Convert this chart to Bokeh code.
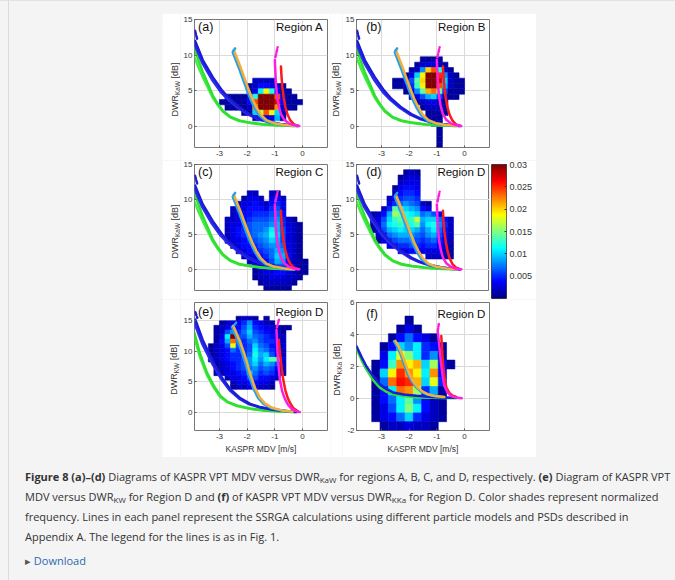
import numpy as np
from bokeh.plotting import figure
from bokeh.models import (Range1d, FixedTicker, Label, LinearColorMapper, ColumnDataSource,
                          Spacer, Div, CustomJSTickFormatter)
from bokeh.layouts import row, column
from bokeh.transform import linear_cmap
from bokeh.embed import file_html
from bokeh.resources import INLINE

FONT = "Liberation Sans"
TXT = "#333333"

# ---------------------------------------------------------------- data
X_TICKS = [-3, -2, -1, 0]
Y_TICKS_KAW = [0, 5, 10, 15]
Y_TICKS_KW = [0, 5, 10, 15]
Y_TICKS_KKA = [-2, 0, 2, 4, 6]
CBAR_TICKS = [0.005, 0.01, 0.015, 0.02, 0.025, 0.03]
LETTERS = ["(a)", "(b)", "(c)", "(d)", "(e)", "(f)"]
REGIONS = ["Region A", "Region B", "Region C", "Region D", "Region D", "Region D"]
Y_SUBS = ["KaW", "KaW", "KaW", "KaW", "KW", "KKa"]
X_LABEL = "KASPR MDV [m/s]"

# normalized frequency, in units of 0.001 (0 = no data); rows from top bin downward
A_X0, A_DX, A_YTOP, A_DY = -3.0, 0.2, 6.75, 0.75
A_FREQ = [
    [0, 0, 0, 0, 0, 0, 2, 2, 2, 2, 0, 0, 0, 0, 0],
    [0, 0, 0, 0, 0, 1, 2, 4, 4, 3, 2, 1, 0, 0, 0],
    [0, 0, 0, 0, 0, 1, 3, 11, 19, 12, 4, 1, 1, 0, 0],
    [0, 1, 1, 1, 1, 3, 12, 30, 30, 30, 24, 3, 1, 1, 0],
    [1, 1, 1, 1, 1, 4, 24, 30, 30, 30, 27, 4, 1, 1, 1],
    [0, 1, 1, 1, 1, 2, 22, 30, 30, 30, 22, 3, 1, 1, 0],
    [0, 0, 0, 0, 1, 1, 10, 17, 24, 19, 10, 2, 0, 0, 0],
    [0, 0, 0, 0, 0, 0, 2, 3, 3, 3, 9, 1, 0, 0, 0],
]
B_X0, B_DX, B_YTOP, B_DY = -3.0, 0.2, 9.75, 0.75
B_FREQ = [
    [0, 0, 0, 0, 0, 0, 0, 1, 1, 1, 1, 0, 0, 0, 0],
    [0, 0, 0, 0, 0, 0, 1, 2, 3, 3, 2, 1, 0, 0, 0],
    [0, 0, 0, 0, 0, 1, 2, 8, 20, 24, 12, 2, 1, 0, 0],
    [0, 0, 0, 0, 1, 3, 10, 19, 30, 30, 25, 8, 2, 1, 0],
    [0, 0, 1, 1, 2, 6, 14, 20, 30, 30, 27, 10, 2, 1, 1],
    [0, 0, 1, 1, 2, 5, 13, 19, 30, 30, 24, 9, 2, 1, 1],
    [0, 0, 0, 0, 1, 3, 8, 14, 21, 23, 15, 6, 1, 1, 1],
    [0, 0, 0, 0, 0, 1, 3, 6, 9, 10, 6, 2, 1, 1, 0],
    [0, 0, 0, 0, 0, 0, 1, 2, 3, 3, 2, 1, 0, 0, 0],
    [0, 0, 0, 0, 0, 0, 0, 1, 2, 2, 2, 1, 0, 0, 0],
    [0, 0, 0, 0, 0, 0, 0, 0, 1, 1, 1, 1, 0, 0, 0],
    [0, 0, 0, 0, 0, 0, 0, 0, 1, 1, 1, 0, 0, 0, 0],
    [0, 0, 0, 0, 0, 0, 0, 0, 0, 1, 1, 0, 0, 0, 0],
    [0, 0, 0, 0, 0, 0, 0, 0, 0, 0, 1, 0, 0, 0, 0],
    [0, 0, 0, 0, 0, 0, 0, 0, 0, 0, 1, 0, 0, 0, 0],
    [0, 0, 0, 0, 0, 0, 0, 0, 0, 0, 1, 0, 0, 0, 0],
    [0, 0, 0, 0, 0, 0, 0, 0, 0, 0, 1, 0, 0, 0, 0],
]
C_X0, C_DX, C_YTOP, C_DY = -3.0, 0.2, 11.25, 0.75
C_FREQ = [
    [0, 0, 0, 0, 0, 2, 2, 0, 0, 2, 1, 0, 0, 0, 0, 0],
    [0, 0, 0, 0, 1, 3, 3, 2, 0, 3, 4, 2, 0, 0, 0, 0],
    [0, 0, 0, 2, 3, 3, 4, 3, 2, 4, 5, 3, 0, 0, 0, 0],
    [0, 0, 2, 3, 3, 4, 4, 4, 3, 5, 6, 3, 0, 0, 0, 0],
    [0, 0, 2, 3, 4, 4, 5, 5, 5, 6, 7, 4, 0, 0, 0, 0],
    [0, 2, 2, 3, 4, 5, 6, 6, 6, 7, 8, 5, 2, 1, 0, 0],
    [0, 2, 3, 3, 4, 6, 7, 7, 7, 8, 9, 5, 3, 2, 1, 0],
    [0, 2, 3, 4, 5, 6, 7, 7, 8, 11, 9, 6, 3, 2, 1, 0],
    [0, 2, 3, 4, 5, 6, 7, 8, 9, 12, 10, 6, 3, 2, 1, 0],
    [0, 1, 3, 3, 4, 5, 6, 7, 8, 10, 9, 6, 3, 2, 1, 0],
    [0, 0, 2, 3, 4, 4, 5, 6, 7, 8, 8, 7, 3, 2, 1, 0],
    [0, 0, 0, 2, 3, 4, 4, 5, 6, 7, 9, 8, 3, 2, 1, 0],
    [0, 0, 0, 0, 2, 3, 3, 4, 5, 7, 10, 9, 4, 2, 1, 0],
    [0, 0, 0, 0, 0, 2, 3, 3, 4, 6, 9, 8, 4, 2, 1, 1],
    [0, 0, 0, 0, 0, 0, 2, 3, 3, 4, 6, 6, 4, 2, 1, 1],
    [0, 0, 0, 0, 0, 0, 1, 2, 3, 3, 4, 4, 3, 2, 1, 1],
    [0, 0, 0, 0, 0, 0, 1, 2, 2, 3, 3, 3, 2, 2, 1, 0],
    [0, 0, 0, 0, 0, 0, 0, 1, 2, 2, 2, 2, 2, 1, 0, 0],
    [0, 0, 0, 0, 0, 0, 0, 0, 1, 1, 1, 1, 1, 0, 0, 0],
]
D_X0, D_DX, D_YTOP, D_DY = -3.4, 0.2, 14.25, 0.75
D_FREQ = [
    [0, 0, 0, 0, 0, 0, 1, 2, 1, 0, 0, 0, 0, 0, 0, 0, 0],
    [0, 0, 0, 0, 0, 1, 2, 3, 2, 0, 0, 0, 0, 0, 0, 0, 0],
    [0, 0, 0, 0, 0, 2, 3, 3, 3, 0, 0, 0, 0, 0, 0, 0, 0],
    [0, 0, 0, 0, 1, 3, 4, 4, 3, 0, 0, 0, 0, 0, 0, 0, 0],
    [0, 0, 0, 0, 2, 4, 5, 5, 4, 0, 0, 0, 0, 0, 0, 0, 0],
    [0, 0, 0, 2, 3, 5, 6, 6, 5, 0, 0, 0, 0, 0, 0, 0, 0],
    [0, 0, 0, 3, 5, 7, 8, 7, 6, 2, 1, 0, 0, 0, 0, 0, 0],
    [0, 0, 2, 5, 14, 12, 10, 9, 8, 4, 3, 0, 0, 0, 0, 0, 0],
    [1, 2, 4, 9, 16, 15, 12, 11, 10, 7, 8, 6, 3, 0, 0, 0, 0],
    [1, 3, 6, 10, 13, 14, 12, 13, 17, 9, 10, 10, 7, 4, 2, 0, 0],
    [1, 3, 7, 11, 12, 13, 11, 12, 14, 8, 11, 12, 8, 5, 2, 0, 0],
    [1, 3, 6, 9, 10, 11, 10, 10, 9, 7, 9, 11, 7, 4, 2, 0, 0],
    [0, 2, 4, 7, 8, 9, 9, 8, 7, 6, 8, 9, 6, 4, 2, 0, 0],
    [0, 1, 3, 5, 6, 7, 7, 7, 6, 5, 6, 7, 5, 3, 2, 0, 0],
    [0, 0, 0, 3, 4, 5, 5, 6, 5, 4, 5, 5, 4, 3, 1, 0, 0],
    [0, 0, 0, 0, 0, 2, 3, 4, 4, 3, 3, 3, 3, 2, 1, 0, 0],
    [0, 0, 0, 0, 0, 0, 0, 0, 0, 0, 2, 2, 2, 1, 1, 0, 0],
]
E_X0, E_DX, E_YTOP, E_DY = -3.4, 0.2, 15.75, 0.75
E_FREQ = [
    [0, 0, 0, 0, 0, 1, 2, 2, 1, 0, 1, 0, 0, 0, 0, 0, 0],
    [0, 0, 1, 2, 3, 3, 5, 8, 4, 3, 2, 1, 0, 0, 0, 0, 0],
    [0, 1, 2, 3, 4, 4, 6, 9, 5, 4, 3, 3, 1, 1, 1, 0, 0],
    [0, 1, 2, 6, 8, 5, 7, 10, 6, 5, 4, 3, 2, 1, 0, 0, 0],
    [0, 1, 3, 11, 30, 6, 6, 9, 7, 6, 5, 4, 2, 2, 0, 0, 0],
    [0, 1, 4, 9, 23, 7, 5, 7, 8, 6, 5, 5, 3, 2, 0, 0, 0],
    [1, 2, 3, 6, 18, 6, 5, 6, 10, 7, 6, 4, 3, 2, 0, 0, 0],
    [1, 2, 3, 4, 7, 5, 5, 6, 11, 8, 7, 5, 3, 2, 0, 0, 0],
    [1, 2, 3, 4, 5, 5, 5, 7, 12, 9, 10, 6, 4, 2, 0, 0, 0],
    [1, 2, 3, 4, 5, 5, 6, 8, 11, 8, 11, 14, 13, 3, 0, 0, 0],
    [0, 1, 2, 3, 4, 5, 6, 8, 10, 7, 9, 8, 6, 2, 0, 0, 0],
    [0, 1, 2, 3, 4, 5, 6, 7, 8, 6, 7, 6, 4, 2, 0, 0, 0],
    [0, 1, 2, 3, 3, 4, 5, 10, 7, 5, 6, 5, 3, 1, 0, 0, 0],
    [0, 0, 0, 2, 3, 3, 4, 6, 6, 4, 4, 3, 2, 0, 0, 0, 0],
    [0, 0, 0, 0, 2, 3, 3, 4, 4, 3, 3, 2, 0, 0, 0, 0, 0],
    [0, 0, 0, 0, 1, 2, 2, 3, 3, 2, 2, 1, 0, 0, 0, 0, 0],
]
F_X0, F_DX, F_YTOP, F_DY = -3.35, 0.3, 5.15, 0.55
F_FREQ = [
    [0, 0, 0, 0, 1, 0, 0, 0, 0, 0],
    [0, 0, 0, 1, 3, 1, 0, 0, 0, 0],
    [0, 0, 1, 4, 7, 4, 3, 1, 0, 0],
    [0, 1, 4, 10, 8, 11, 5, 4, 1, 0],
    [0, 3, 11, 18, 15, 11, 5, 8, 1, 0],
    [1, 4, 13, 22, 19, 21, 10, 16, 4, 1],
    [1, 10, 19, 25, 22, 19, 11, 22, 4, 0],
    [1, 7, 23, 26, 25, 21, 10, 18, 5, 0],
    [1, 4, 11, 23, 22, 16, 5, 9, 1, 0],
    [1, 4, 7, 11, 14, 8, 4, 2, 1, 0],
    [1, 3, 6, 11, 15, 11, 4, 2, 1, 0],
    [1, 3, 4, 7, 10, 5, 3, 2, 1, 0],
    [0, 1, 2, 2, 3, 2, 2, 1, 0, 0],
]

# SSRGA model curves, DWR_KaW (panels a-d)
KAW_GREEN_X = [-3.9, -3.75, -3.6, -3.4, -3.24, -3.05, -2.88, -2.6, -2.28, -1.9, -1.44, -0.9, -0.3]
KAW_GREEN_A_Y = [11.0, 9.2, 7.6, 5.8, 4.3, 3.1, 2.2, 1.3, 0.8, 0.5, 0.27, 0.12, 0.04]
KAW_GREEN_B_Y = [9.7, 8.2, 6.9, 5.3, 4.0, 2.9, 2.05, 1.2, 0.72, 0.45, 0.24, 0.1, 0.03]
KAW_BLUE_A_X = [-3.88, -3.6, -3.24, -2.9, -2.64, -2.3, -1.92, -1.6, -1.2, -0.8, -0.45, -0.15]
KAW_BLUE_A_Y = [12.0, 9.3, 6.9, 5.0, 3.85, 2.7, 1.7, 1.1, 0.6, 0.3, 0.12, 0.02]
KAW_BLUE_B_X = [-3.9, -3.62, -3.28, -2.95, -2.68, -2.34, -1.96, -1.64, -1.24, -0.84, -0.48, -0.17]
KAW_BLUE_B_Y = [11.5, 8.9, 6.6, 4.8, 3.7, 2.6, 1.62, 1.05, 0.57, 0.28, 0.11, 0.02]
KAW_BLUE_TOP_X = [-3.88, -3.8]
KAW_BLUE_TOP_Y = [13.4, 12.2]
KAW_LBLUE_X = [-2.52, -2.4, -2.28, -2.16, -2.02, -1.88, -1.72, -1.56, -1.35, -1.08, -0.7, -0.3]
KAW_LBLUE_Y = [10.4, 9.2, 8.0, 6.7, 5.2, 3.8, 2.5, 1.5, 0.8, 0.4, 0.15, 0.05]
KAW_LBLUE_TOP_X = [-2.5, -2.43]
KAW_LBLUE_TOP_Y = [10.6, 10.95]
KAW_ORANGE_X = [-2.47, -2.35, -2.22, -2.1, -1.96, -1.82, -1.66, -1.5, -1.3, -1.04, -0.66, -0.28]
KAW_ORANGE_Y = [10.6, 9.4, 8.1, 6.8, 5.3, 3.9, 2.6, 1.6, 0.85, 0.42, 0.16, 0.05]
KAW_MAG_X = [-1.0, -0.98, -0.96, -0.92, -0.86, -0.78, -0.66, -0.5, -0.32, -0.12]
KAW_MAG_Y = [9.3, 7.5, 5.8, 4.2, 2.8, 1.7, 0.9, 0.4, 0.15, 0.03]
KAW_MAG_TOP_X = [-0.98, -0.9]
KAW_MAG_TOP_Y = [9.7, 11.1]
KAW_RED_X = [-0.78, -0.76, -0.73, -0.68, -0.62, -0.54, -0.44, -0.32, -0.18]
KAW_RED_Y = [8.4, 7.0, 5.5, 4.0, 2.7, 1.6, 0.8, 0.3, 0.05]

# DWR_KW (panel e)
KW_GREEN_X = [-3.9, -3.7, -3.45, -3.2, -2.97, -2.7, -2.37, -1.9, -1.41, -0.8, -0.3]
KW_GREEN_A_Y = [13.0, 9.6, 6.5, 4.3, 2.7, 1.7, 1.1, 0.6, 0.3, 0.12, 0.03]
KW_GREEN_B_Y = [12.2, 9.0, 6.1, 4.0, 2.5, 1.6, 1.0, 0.55, 0.27, 0.1, 0.02]
KW_BLUE_A_X = [-3.87, -3.6, -3.21, -2.9, -2.61, -2.25, -1.89, -1.5, -1.05, -0.6, -0.21]
KW_BLUE_A_Y = [15.2, 11.8, 8.1, 5.6, 3.8, 2.3, 1.36, 0.8, 0.45, 0.2, 0.02]
KW_BLUE_B_X = [-3.9, -3.63, -3.24, -2.93, -2.64, -2.28, -1.92, -1.53, -1.08, -0.63, -0.24]
KW_BLUE_B_Y = [14.6, 11.3, 7.8, 5.4, 3.65, 2.2, 1.3, 0.76, 0.42, 0.18, 0.02]
KW_BLUE_TOP_X = [-3.87, -3.8]
KW_BLUE_TOP_Y = [16.4, 15.5]
KW_LBLUE_X = [-2.55, -2.42, -2.3, -2.18, -2.07, -1.95, -1.77, -1.6, -1.41, -1.15, -0.8, -0.4]
KW_LBLUE_Y = [14.0, 12.6, 11.2, 9.6, 8.1, 6.2, 3.8, 2.3, 1.36, 0.7, 0.3, 0.08]
KW_LBLUE_TOP_X = [-2.46, -2.38]
KW_LBLUE_TOP_Y = [14.3, 14.8]
KW_ORANGE_X = [-2.5, -2.37, -2.24, -2.12, -2.01, -1.89, -1.71, -1.54, -1.35, -1.09, -0.74, -0.36]
KW_ORANGE_Y = [14.2, 12.8, 11.4, 9.8, 8.2, 6.3, 3.9, 2.4, 1.4, 0.72, 0.3, 0.08]
KW_MAG_X = [-0.94, -0.92, -0.88, -0.82, -0.74, -0.64, -0.52, -0.4, -0.25, -0.1]
KW_MAG_Y = [13.5, 11.0, 8.2, 5.4, 3.5, 2.2, 1.2, 0.6, 0.2, 0.02]
KW_MAG_TOP_X = [-0.93, -0.85]
KW_MAG_TOP_Y = [13.9, 15.2]
KW_RED_X = [-0.86, -0.82, -0.76, -0.7, -0.62, -0.54, -0.46, -0.34, -0.16]
KW_RED_Y = [11.9, 10.0, 7.5, 5.4, 3.6, 2.4, 1.6, 0.7, 0.1]

# DWR_KKa (panel f)
KKA_BLUE_X = [-3.9, -3.72, -3.54, -3.3, -3.06, -2.82, -2.58, -2.2, -1.74, -1.2, -0.78, -0.3]
KKA_BLUE_Y = [3.27, 2.6, 2.0, 1.4, 0.9, 0.6, 0.38, 0.25, 0.17, 0.1, 0.07, 0.05]
KKA_GREEN_Y = [3.1, 2.4, 1.8, 1.15, 0.68, 0.42, 0.27, 0.15, 0.07, 0.04, 0.03, 0.02]
KKA_LBLUE_X = [-2.55, -2.42, -2.3, -2.17, -2.04, -1.9, -1.74, -1.56, -1.38, -1.1, -0.78]
KKA_LBLUE_Y = [3.58, 3.2, 2.72, 2.1, 1.5, 1.05, 0.68, 0.42, 0.27, 0.15, 0.1]
KKA_ORANGE_X = [-2.5, -2.37, -2.25, -2.12, -1.99, -1.85, -1.69, -1.51, -1.33, -1.05, -0.73]
KKA_ORANGE_Y = [3.6, 3.22, 2.74, 2.12, 1.52, 1.06, 0.69, 0.43, 0.27, 0.15, 0.1]
KKA_MAG_X = [-0.96, -0.93, -0.89, -0.85, -0.79, -0.73, -0.62, -0.5, -0.32, -0.1]
KKA_MAG_Y = [4.1, 3.6, 2.9, 2.2, 1.4, 0.8, 0.4, 0.17, 0.06, 0.02]
KKA_MAG_TOP_X = [-0.97, -0.93]
KKA_MAG_TOP_Y = [4.2, 4.65]
KKA_RED_X = [-0.84, -0.81, -0.78, -0.72, -0.66, -0.55, -0.45, -0.3]
KKA_RED_Y = [3.9, 3.1, 2.2, 1.3, 0.7, 0.35, 0.2, 0.1]

CAPTION_LINES = [
    "<b>Figure 8 (a)–(d)</b> Diagrams of KASPR VPT MDV versus DWR<sub>KaW</sub> for regions A, B, C, and D, respectively. <b>(e)</b> Diagram of KASPR VPT",
    "MDV versus DWR<sub>KW</sub> for Region D and <b>(f)</b> of KASPR VPT MDV versus DWR<sub>KKa</sub> for Region D. Color shades represent normalized",
    "frequency. Lines in each panel represent the SSRGA calculations using different particle models and PSDs described in",
    "Appendix A. The legend for the lines is as in Fig. 1.",
]

# ---------------------------------------------------------------- style
GREEN, GREEN2 = "#2fe02f", "#45ea45"
BLUE, BLUE2 = "#1c1cd8", "#2b2bf0"
LBLUE, ORANGE = "#2b9ee8", "#f2b03a"
MAGENTA, RED = "#ff1ee0", "#ff1a1a"


def jet(n=256):
    out = []
    for i in range(n):
        t = i / (n - 1)
        r = min(max(1.5 - abs(4 * t - 3), 0), 1)
        g = min(max(1.5 - abs(4 * t - 2), 0), 1)
        b = min(max(1.5 - abs(4 * t - 1), 0), 1)
        out.append("#%02x%02x%02x" % (int(r * 255), int(g * 255), int(b * 255)))
    return out


PAL = jet()
CW = {'D': 0.722, 'W': 0.944, 'R': 0.722, 'K': 0.667, 'a': 0.556, ' ': 0.278,
      '[': 0.278, 'd': 0.556, 'B': 0.667, ']': 0.278}


def tw(s, size):
    return sum(CW.get(c, 0.55) for c in s) * size


def add_heat(p, mat, x0, dx, ytop, dy):
    L, R, B, T, V = [], [], [], [], []
    for i, rv in enumerate(mat):
        for j, v in enumerate(rv):
            if v > 0:
                L.append(x0 + j * dx); R.append(x0 + (j + 1) * dx)
                T.append(ytop - i * dy); B.append(ytop - (i + 1) * dy)
                V.append(v * 0.001)
    src = ColumnDataSource(dict(left=L, right=R, bottom=B, top=T, v=V))
    cm = linear_cmap('v', PAL, 0, 0.03)
    p.quad(left='left', right='right', bottom='bottom', top='top', source=src,
           fill_color=cm, line_color=cm, line_width=0.6)


def add_lines(p, curves):
    for xs, ys, col, dash in curves:
        p.line(xs, ys, line_color=col, line_width=2.5, line_dash=dash,
               line_cap="round", line_join="round")


def kaw_curves():
    return [
        (KAW_GREEN_X, KAW_GREEN_B_Y, GREEN2, "solid"),
        (KAW_GREEN_X, KAW_GREEN_A_Y, GREEN, "solid"),
        (KAW_BLUE_B_X, KAW_BLUE_B_Y, BLUE2, "solid"),
        (KAW_BLUE_A_X, KAW_BLUE_A_Y, BLUE, "solid"),
        (KAW_BLUE_TOP_X, KAW_BLUE_TOP_Y, BLUE, "3 2"),
        (KAW_LBLUE_X, KAW_LBLUE_Y, LBLUE, "solid"),
        (KAW_ORANGE_X, KAW_ORANGE_Y, ORANGE, "solid"),
        (KAW_LBLUE_TOP_X, KAW_LBLUE_TOP_Y, LBLUE, "3 2"),
        (KAW_RED_X, KAW_RED_Y, RED, "solid"),
        (KAW_MAG_X, KAW_MAG_Y, MAGENTA, "solid"),
        (KAW_MAG_TOP_X, KAW_MAG_TOP_Y, MAGENTA, "3 2"),
    ]


def kw_curves():
    return [
        (KW_GREEN_X, KW_GREEN_B_Y, GREEN2, "solid"),
        (KW_GREEN_X, KW_GREEN_A_Y, GREEN, "solid"),
        (KW_BLUE_B_X, KW_BLUE_B_Y, BLUE2, "solid"),
        (KW_BLUE_A_X, KW_BLUE_A_Y, BLUE, "solid"),
        (KW_BLUE_TOP_X, KW_BLUE_TOP_Y, BLUE, "3 2"),
        (KW_LBLUE_X, KW_LBLUE_Y, LBLUE, "solid"),
        (KW_ORANGE_X, KW_ORANGE_Y, ORANGE, "solid"),
        (KW_LBLUE_TOP_X, KW_LBLUE_TOP_Y, LBLUE, "3 2"),
        (KW_RED_X, KW_RED_Y, RED, "solid"),
        (KW_MAG_X, KW_MAG_Y, MAGENTA, "solid"),
        (KW_MAG_TOP_X, KW_MAG_TOP_Y, MAGENTA, "3 2"),
    ]


def kka_curves():
    return [
        (KKA_BLUE_X, KKA_GREEN_Y, GREEN, "solid"),
        (KKA_BLUE_X, KKA_BLUE_Y, BLUE, "solid"),
        (KKA_LBLUE_X, KKA_LBLUE_Y, LBLUE, "solid"),
        (KKA_ORANGE_X, KKA_ORANGE_Y, ORANGE, "solid"),
        (KKA_RED_X, KKA_RED_Y, RED, "solid"),
        (KKA_MAG_X, KKA_MAG_Y, MAGENTA, "solid"),
        (KKA_MAG_TOP_X, KKA_MAG_TOP_Y, MAGENTA, "3 2"),
    ]


HEAT = [
    (A_FREQ, A_X0, A_DX, A_YTOP, A_DY),
    (B_FREQ, B_X0, B_DX, B_YTOP, B_DY),
    (C_FREQ, C_X0, C_DX, C_YTOP, C_DY),
    (D_FREQ, D_X0, D_DX, D_YTOP, D_DY),
    (E_FREQ, E_X0, E_DX, E_YTOP, E_DY),
    (F_FREQ, F_X0, F_DX, F_YTOP, F_DY),
]
CURVES = [kaw_curves, kaw_curves, kaw_curves, kaw_curves, kw_curves, kka_curves]


def ylabel_fig(sub, width, height, center_x, center_y):
    """Narrow strip holding the rotated y-axis label DWR_sub [dB]."""
    q = figure(title=None, frame_width=width, frame_height=height,
               x_range=Range1d(0, width), y_range=Range1d(0, height),
               min_border_left=0, min_border_right=0, min_border_top=0, min_border_bottom=0,
               x_axis_location=None, y_axis_location=None,
               toolbar_location=None, output_backend="svg")
    q.grid.visible = False
    q.outline_line_color = None
    q.background_fill_color = "white"
    q.border_fill_color = "white"
    ms, ss = 9.0, 6.5
    gap = 0.278 * ms
    parts = [("DWR", ms, 0.0, 0.0), (sub, ss, 2.2, gap), ("[dB]", ms, 0.0, 0.0)]
    total = sum(tw(t, s) + g for t, s, _, g in parts)
    pos = center_y - total / 2.0
    for t, s, dxo, g in parts:
        q.add_layout(Label(x=center_x + dxo, y=pos, text=t,
                           angle=np.pi / 2, text_align="left", text_baseline="middle",
                           text_font=FONT, text_font_size="%gpx" % s, text_color=TXT))
        pos += tw(t, s) + g
    return q


def make_panel(idx, yr, yticks, bl, br, bt, bb, fh, show_x, xlabel, text_y, letter_x):
    p = figure(title=None, frame_width=133, frame_height=fh,
               x_range=Range1d(-3.9, 0.9), y_range=Range1d(yr[0], yr[1]),
               min_border_left=bl, min_border_right=br, min_border_top=bt, min_border_bottom=bb,
               toolbar_location=None, output_backend="svg")
    p.background_fill_color = "white"
    p.border_fill_color = "white"
    p.outline_line_color = "#767676"
    p.outline_line_width = 1
    p.xaxis.ticker = FixedTicker(ticks=X_TICKS)
    p.yaxis.ticker = FixedTicker(ticks=yticks)
    p.xaxis.formatter = CustomJSTickFormatter(code="return tick.toString();")
    p.yaxis.formatter = CustomJSTickFormatter(code="return tick.toString();")
    p.xgrid.ticker = FixedTicker(ticks=X_TICKS)
    p.ygrid.ticker = FixedTicker(ticks=yticks)
    p.grid.grid_line_color = "#dadada"
    p.grid.grid_line_width = 1
    for ax in (p.xaxis[0], p.yaxis[0]):
        ax.axis_line_color = None
        ax.major_tick_in = 2
        ax.major_tick_out = 0
        ax.major_tick_line_color = "#555555"
        ax.minor_tick_line_color = None
        ax.major_label_text_font = FONT
        ax.major_label_text_font_size = "8px"
        ax.major_label_text_color = TXT
        ax.major_label_standoff = 3
    p.yaxis.major_label_standoff = 2
    if not show_x:
        p.xaxis.visible = False
    if xlabel:
        p.xaxis.axis_label = X_LABEL
        p.xaxis.axis_label_text_font = FONT
        p.xaxis.axis_label_text_font_size = "8.5px"
        p.xaxis.axis_label_text_font_style = "normal"
        p.xaxis.axis_label_text_color = TXT
        p.xaxis.axis_label_standoff = 2

    add_heat(p, *HEAT[idx])
    add_lines(p, CURVES[idx]())

    p.add_layout(Label(x=letter_x, y=text_y, text=LETTERS[idx], text_align="left",
                       text_baseline="middle", text_font=FONT, text_font_size="12.5px",
                       text_color="#111111"))
    p.add_layout(Label(x=0.75, y=text_y, text=REGIONS[idx], text_align="right",
                       text_baseline="middle", text_font=FONT, text_font_size="11.5px",
                       text_color="#111111"))
    return p


# left column: strip 18 px + panel (12 + 133 + 3); right column: strip 12 px + panel (14 + 133 + ...)
pa = make_panel(0, (-3, 15), Y_TICKS_KAW, 12, 3, 6, 13, 128, True, False, 14.0, -3.77)
pb = make_panel(1, (-3, 15), Y_TICKS_KAW, 14, 47, 6, 13, 128, True, False, 14.0, -3.55)
pc = make_panel(2, (-3, 15), Y_TICKS_KAW, 12, 3, 4, 9, 126, False, False, 14.0, -3.77)
pd = make_panel(3, (-3, 15), Y_TICKS_KAW, 14, 0, 4, 9, 126, False, False, 14.0, -3.55)
pe = make_panel(4, (-3, 18), Y_TICKS_KW, 12, 3, 3, 27, 128, True, True, 16.4, -3.77)
pf = make_panel(5, (-2, 6), Y_TICKS_KKA, 14, 47, 3, 27, 128, True, True, 5.3, -3.55)

la = ylabel_fig(Y_SUBS[0], 18, 147, 12.5, 13 + 64)
lb = ylabel_fig(Y_SUBS[1], 12, 147, 5.8, 13 + 64)
lc = ylabel_fig(Y_SUBS[2], 18, 139, 12.5, 9 + 63)
ld = ylabel_fig(Y_SUBS[3], 12, 139, 5.8, 9 + 63)
le = ylabel_fig(Y_SUBS[4], 18, 158, 11.8, 27 + 64)
lf = ylabel_fig(Y_SUBS[5], 12, 158, 6.5, 27 + 64)

# colorbar
cb = figure(title=None, frame_width=15, frame_height=134, x_range=Range1d(0, 1),
            y_range=Range1d(0, 0.03), min_border_left=2, min_border_right=30,
            min_border_top=4, min_border_bottom=1, x_axis_location=None,
            y_axis_location="right", toolbar_location=None, output_backend="svg")
cb.grid.visible = False
cb.outline_line_color = "#444444"
cb.image(image=[np.linspace(0, 0.03, 256).reshape(-1, 1)], x=0, y=0, dw=1, dh=0.03,
         color_mapper=LinearColorMapper(palette=PAL, low=0, high=0.03))
cb.yaxis.ticker = FixedTicker(ticks=CBAR_TICKS)
cb.yaxis.formatter = CustomJSTickFormatter(code="return tick.toString();")
cb.yaxis.axis_line_color = None
cb.yaxis.major_tick_in = 2
cb.yaxis.major_tick_out = 0
cb.yaxis.major_tick_line_color = "#333333"
cb.yaxis.minor_tick_line_color = None
cb.yaxis.major_label_text_font = FONT
cb.yaxis.major_label_text_font_size = "9px"
cb.yaxis.major_label_text_color = TXT
cb.yaxis.major_label_standoff = 3

block = column(row(la, pa, lb, pb), row(lc, pc, ld, pd, cb), row(le, pe, lf, pf))

sub_style = '<sub style="font-size:8px;line-height:0;vertical-align:-2px;">'
cap_html = (
    '<div style="font-family:\'Open Sans\',sans-serif;font-size:11px;line-height:20px;'
    'color:#333333;white-space:nowrap;padding-top:5px;">'
    + "<br>".join(l.replace("<sub>", sub_style) for l in CAPTION_LINES)
    + '<div style="margin-top:4px;"><span style="color:#555555;">&#9656;</span> '
      '<span style="color:#2a6ab2;">Download</span></div></div>'
)
cap = Div(text=cap_html, width=655, height=123)

root = column(
    Spacer(width=675, height=13),
    row(Spacer(width=162, height=444), block),
    row(Spacer(width=20, height=123), cap),
    styles={
        "background-color": "#f4f4f4",
        "background-image": "linear-gradient(to right, transparent 8px, #dcdcdc 8px, #dcdcdc 9px, transparent 9px),"
                            "linear-gradient(to bottom, #e2e2e2 0px, #e2e2e2 1px, transparent 1px)",
    },
)

open("out.html", "w").write(file_html(root, INLINE))
